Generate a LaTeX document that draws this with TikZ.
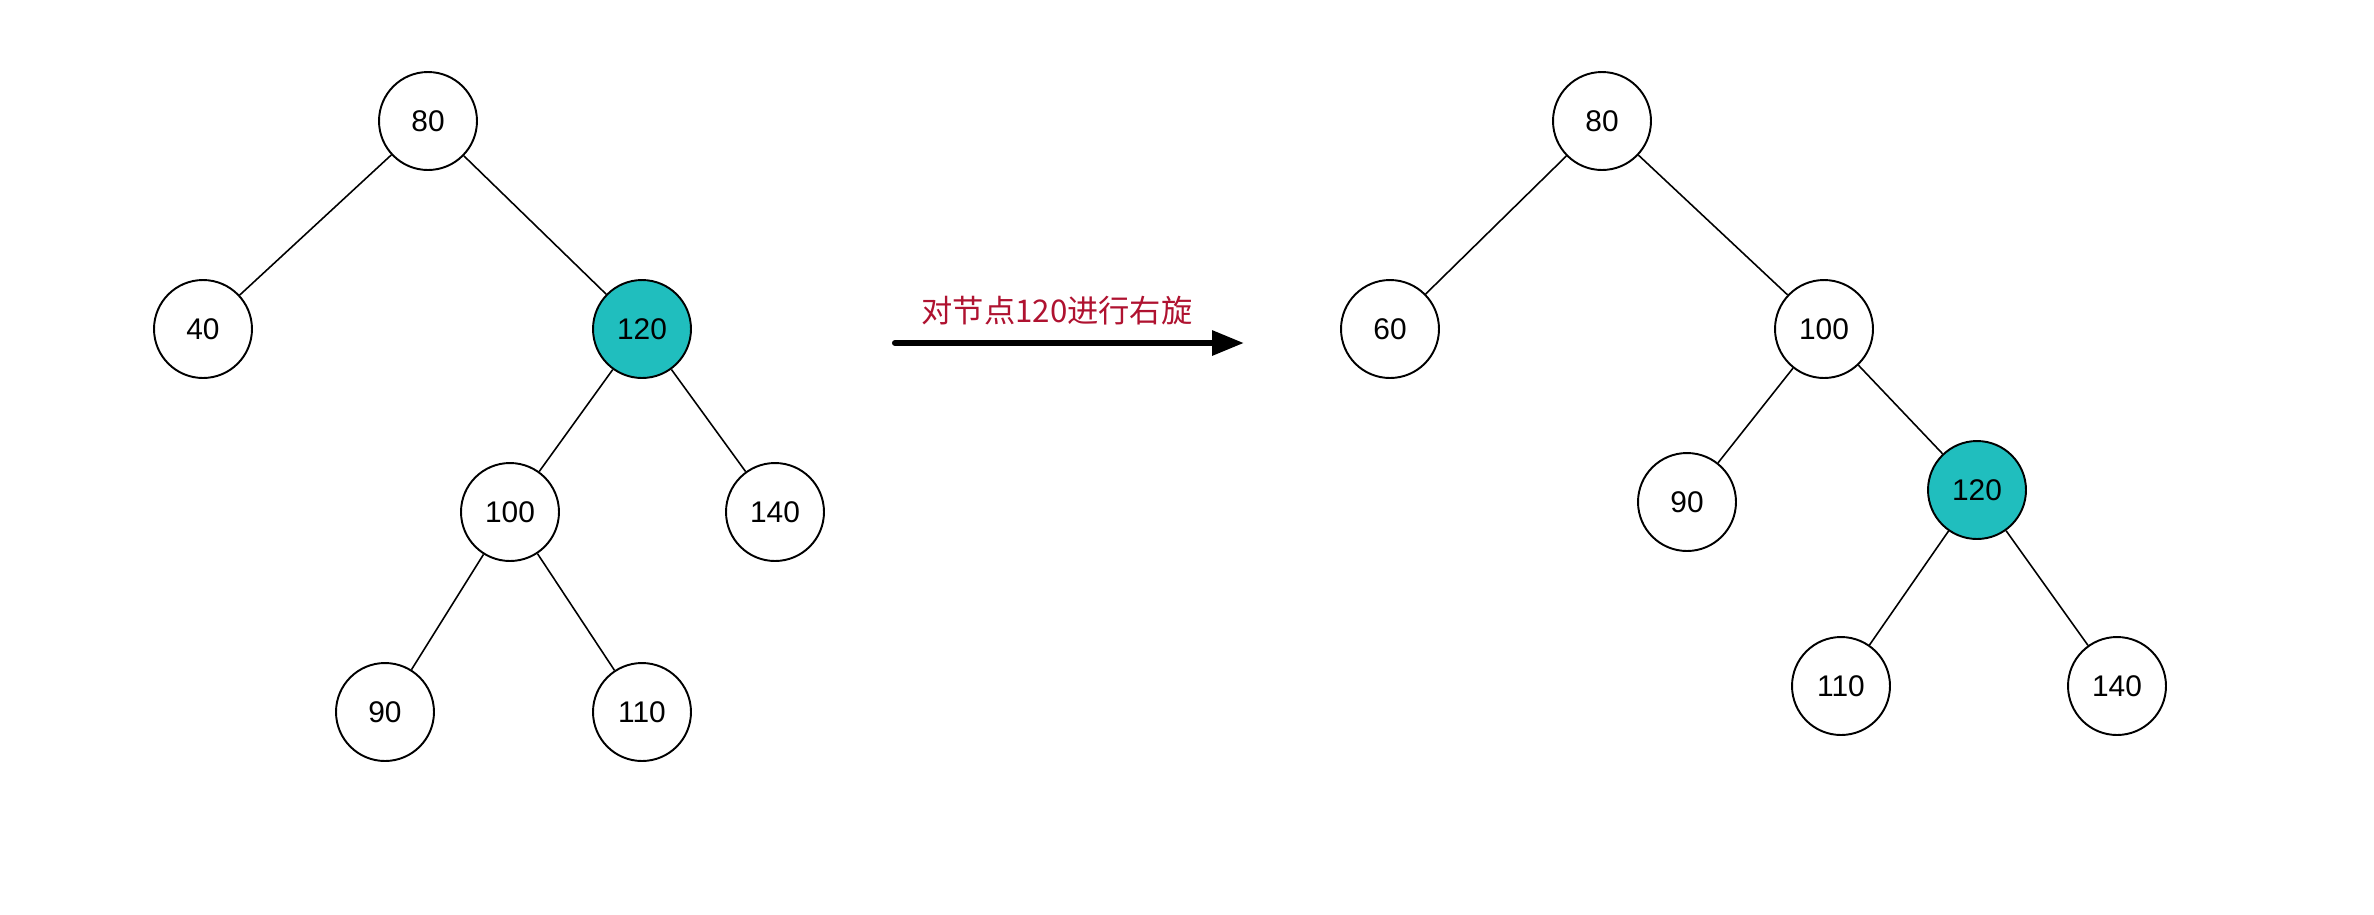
\documentclass[tikz,border=0pt]{standalone}
\usepackage{fontspec}
\setmainfont{Liberation Sans}
\newfontfamily\cjk{Noto Sans CJK SC}
\usetikzlibrary{arrows.meta}
\definecolor{teal1}{RGB}{32,190,190}
\definecolor{lblred}{RGB}{175,18,48}
\begin{document}
\begin{tikzpicture}[x=0.02cm,y=-0.02cm,
  tn/.style={circle,draw=black,line width=1.1pt,fill=white,minimum size=1.96cm,inner sep=0pt,font=\fontsize{17}{20}\selectfont},
  hl/.style={tn,fill=teal1},
  edge/.style={line width=0.9pt,draw=black}]
\useasboundingbox (0,0) rectangle (2374,914);
% left tree
\node[tn] (a80) at (428,121) {80};
\node[tn] (a40) at (203,329) {40};
\node[hl] (a120) at (642,329) {120};
\node[tn] (a100) at (510,512) {100};
\node[tn] (a140) at (775,512) {140};
\node[tn] (a90) at (385,712) {90};
\node[tn] (a110) at (642,712) {110};
\draw[edge] (a80) -- (a40);
\draw[edge] (a80) -- (a120);
\draw[edge] (a120) -- (a100);
\draw[edge] (a120) -- (a140);
\draw[edge] (a100) -- (a90);
\draw[edge] (a100) -- (a110);
% right tree
\node[tn] (b80) at (1602,121) {80};
\node[tn] (b60) at (1390,329) {60};
\node[tn] (b100) at (1824,329) {100};
\node[tn] (b90) at (1687,502) {90};
\node[hl] (b120) at (1977,490) {120};
\node[tn] (b110) at (1841,686) {110};
\node[tn] (b140) at (2117,686) {140};
\draw[edge] (b80) -- (b60);
\draw[edge] (b80) -- (b100);
\draw[edge] (b100) -- (b90);
\draw[edge] (b100) -- (b120);
\draw[edge] (b120) -- (b110);
\draw[edge] (b120) -- (b140);
% arrow
\coordinate (s) at (895,343);
\coordinate (e) at (1244,343);
\draw[line width=3.5pt,line cap=round,-{Triangle[length=0.64cm,width=0.48cm]}] (s) -- (e);
\node[text=lblred,font=\cjk\fontsize{17.8}{20}\selectfont] (lbl) at (1057,311) {对节点120进行右旋};
\end{tikzpicture}
\end{document}
